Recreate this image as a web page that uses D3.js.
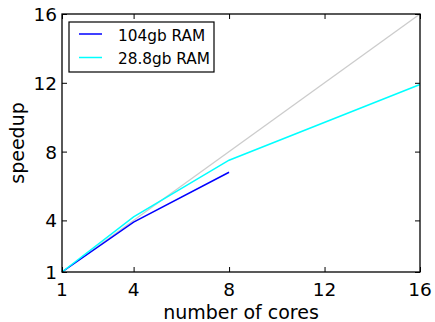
<!DOCTYPE html>
<html>
<head>
<meta charset="utf-8">
<script src="https://cdn.jsdelivr.net/npm/d3@7"></script>
<style>
  body { margin: 0; background: #fff; }
  text { font-family: "DejaVu Sans", sans-serif; fill: #000; }
</style>
</head>
<body>
<svg id="chart" width="435" height="322"></svg>
<script>
var cores = [1, 4, 8, 16];
var ram104 = [1, 3.9, 6.8];
var ram288 = [1, 4.2, 7.5, 11.9];
var ideal = [1, 16];
var xTicks = [1, 4, 8, 12, 16];
var yTicks = [1, 4, 8, 12, 16];
var seriesNames = ["104gb RAM", "28.8gb RAM"];
var colors = ["#0000ff", "#00ffff"];

var svg = d3.select("#chart");
var margin = {left: 62, right: 15, top: 14, bottom: 50};
var w = 435 - margin.left - margin.right;
var h = 322 - margin.top - margin.bottom;

var x = d3.scaleLinear().domain([1, 16]).range([0, w]);
var y = d3.scaleLinear().domain([1, 16]).range([h, 0]);

var g = svg.append("g")
  .attr("transform", "translate(" + margin.left + "," + margin.top + ")");

var line = d3.line()
  .x(function(d) { return x(d[0]); })
  .y(function(d) { return y(d[1]); });

// ideal speedup
g.append("path")
  .datum(ideal.map(function(v) { return [v, v]; }))
  .attr("d", line)
  .attr("fill", "none")
  .attr("stroke", "#cccccc")
  .attr("stroke-width", 1.3);

[ram104, ram288].forEach(function(vals, i) {
  g.append("path")
    .datum(vals.map(function(v, j) { return [cores[j], v]; }))
    .attr("d", line)
    .attr("fill", "none")
    .attr("stroke", colors[i])
    .attr("stroke-width", 1.5);
});

// ticks inside, on all sides
function ticksOn(axis, scale, ticks, translate) {
  g.append("g")
    .attr("transform", translate)
    .call(axis(scale).tickValues(ticks).tickSize(-5).tickFormat(""))
    .call(function(s) { s.select(".domain").remove(); s.selectAll("line").attr("stroke", "#000"); });
}
ticksOn(d3.axisBottom, x, xTicks, "translate(0," + h + ")");
ticksOn(d3.axisTop, x, xTicks, "translate(0,0)");
ticksOn(d3.axisLeft, y, yTicks, "translate(0,0)");
ticksOn(d3.axisRight, y, yTicks, "translate(" + w + ",0)");

g.append("rect")
  .attr("width", w).attr("height", h)
  .attr("fill", "none").attr("stroke", "#000").attr("stroke-width", 1.3);

// tick labels
g.selectAll(".xl").data(xTicks).enter().append("text")
  .attr("x", function(d) { return x(d); })
  .attr("y", h + 24)
  .attr("text-anchor", "middle")
  .style("font-size", "18.5px")
  .text(function(d) { return d; });

g.selectAll(".yl").data(yTicks).enter().append("text")
  .attr("x", -5)
  .attr("y", function(d) { return y(d) + 7; })
  .attr("text-anchor", "end")
  .style("font-size", "18.5px")
  .text(function(d) { return d; });

// axis titles
svg.append("text")
  .attr("x", margin.left + w / 2)
  .attr("y", 319)
  .attr("text-anchor", "middle")
  .style("font-size", "19px")
  .text("number of cores");

svg.append("text")
  .attr("transform", "translate(24," + (margin.top + h / 2) + ") rotate(-90)")
  .attr("text-anchor", "middle")
  .style("font-size", "19px")
  .text("speedup");

// legend
var legend = svg.append("g").attr("transform", "translate(69,22)");
legend.append("rect")
  .attr("width", 145).attr("height", 50)
  .attr("fill", "#fff").attr("stroke", "#000").attr("stroke-width", 1.2);
seriesNames.forEach(function(name, i) {
  legend.append("line")
    .attr("x1", 10).attr("x2", 33)
    .attr("y1", 12 + i * 23.5).attr("y2", 12 + i * 23.5)
    .attr("stroke", colors[i]).attr("stroke-width", 1.5);
  legend.append("text")
    .attr("x", 49).attr("y", 19 + i * 23)
    .style("font-size", "15.3px")
    .text(name);
});
</script>
</body>
</html>
